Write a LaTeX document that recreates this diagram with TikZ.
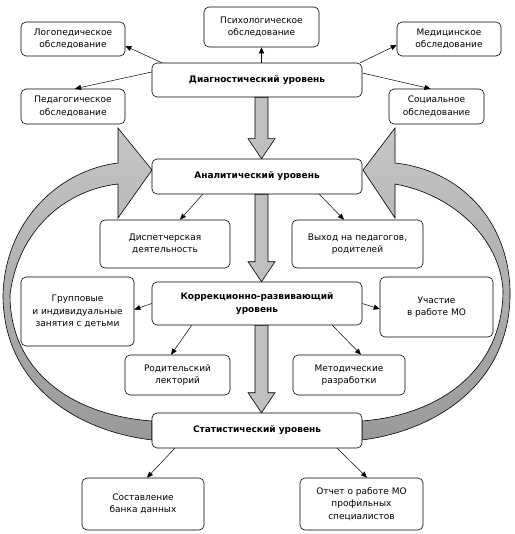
\documentclass[tikz,border=0pt]{standalone}
\usepackage{fontspec}
\setmainfont{DejaVu Sans}
\usetikzlibrary{positioning, calc, arrows.meta}

% wide grey arrow from one level to the next
\newcommand{\levelarrow}[2]{%
  \path[fill=gray!50, draw=black, line width=0.6pt] let \p1=(#1), \p2=(#2) in
    (\x1-6.5pt,\y1) -- (\x1+6.5pt,\y1) -- (\x2+6.5pt,\y2+20pt) -- (\x2+13.5pt,\y2+20pt)
    -- (\x2,\y2) -- (\x2-13.5pt,\y2+20pt) -- (\x2-6.5pt,\y2+20pt) -- cycle;}

\begin{document}
\begin{tikzpicture}[x=1pt, y=-1pt,
    box/.style={draw, rounded corners=5pt, fill=white, align=center, inner sep=2pt,
      line width=0.6pt, font=\fontsize{9}{12.5}\selectfont},
    level/.style={box, minimum width=210, font=\bfseries\fontsize{9}{12.5}\selectfont},
    link/.style={-{Triangle[length=6pt, width=5pt]}, line width=0.5pt},
    loop/.style={top color=gray!45, bottom color=gray!80, draw=black, line width=0.6pt}]

      \useasboundingbox (0,0) rectangle (514,534);

      % Feedback loops
      \path[loop] (152,170) -- (118,128) -- (118,163)
        .. controls (60,170) and (5,220) .. (3,295)
        .. controls (3,380) and (70,430) .. (152,440)
        -- (152,421)
        .. controls (70,415) and (10,370) .. (10,295)
        .. controls (18,230) and (65,190) .. (118,184)
        -- (118,218) -- cycle;
      \path[loop] (363,170) -- (395,128) -- (395,163)
        .. controls (460,170) and (508,220) .. (510,290)
        .. controls (512,380) and (440,430) .. (362,440)
        -- (362,421)
        .. controls (440,415) and (503,370) .. (503,290)
        .. controls (500,240) and (455,195) .. (395,184)
        -- (395,218) -- cycle;

      % Levels
      \node[level, minimum height=34] (diag) at (257,80) {Диагностический уровень};
      \node[level, minimum height=35] (anal) at (257,176.5) {Аналитический уровень};
      \node[level, minimum height=43] (korr) at (257,303.5) {Коррекционно-развивающий\\уровень};
      \node[level, minimum height=35] (stat) at (257,430.5) {Статистический уровень};

      % Diagnostic level
      \node[box, minimum width=104, minimum height=34] (logo) at (73,39) {Логопедическое\\обследование};
      \node[box, minimum width=115, minimum height=40] (psych) at (261.5,27) {Психологическое\\обследование};
      \node[box, minimum width=104, minimum height=34] (med) at (449,39) {Медицинское\\обследование};
      \node[box, minimum width=104, minimum height=35] (ped) at (73,106.5) {Педагогическое\\обследование};
      \node[box, minimum width=95, minimum height=35] (soc) at (436.5,106.5) {Социальное\\обследование};

      % Analytic level
      \node[box, minimum width=130, minimum height=48] (disp) at (165,244) {Диспетчерская\\деятельность};
      \node[box, minimum width=131, minimum height=48] (exit) at (357.5,244) {Выход на педагогов,\\родителей};

      % Correction level
      \node[box, minimum width=113, minimum height=69] (group) at (77.5,311.5) {Групповые\\и индивидуальные\\занятия с детьми};
      \node[box, minimum width=113, minimum height=60] (uch) at (436.5,307) {Участие\\в работе МО};
      \node[box, minimum width=105, minimum height=40] (rod) at (177.5,375) {Родительский\\лекторий};
      \node[box, minimum width=112, minimum height=40] (met) at (349,375) {Методические\\разработки};

      % Statistic level
      \node[box, minimum width=122, minimum height=52] (sost) at (143,504) {Составление\\банка данных};
      \node[box, minimum width=123, minimum height=52] (otch) at (361.5,504) {Отчет о работе МО\\профильных\\специалистов};

      \levelarrow{diag.south -| psych.south}{anal.north -| psych.south}
      \levelarrow{anal.south -| psych.south}{korr.north -| psych.south}
      \levelarrow{korr.south -| psych.south}{stat.north -| psych.south}

      \draw[link] ([xshift=10pt]diag.north west) -- ([yshift=-7pt]logo.east);
      \draw[link] ([yshift=8pt]diag.west) -- ([xshift=2pt]ped.north);
      \draw[link] (psych.south |- diag.north) -- (psych.south);
      \draw[link] ([xshift=-2pt]diag.north east) -- ([yshift=-6pt]med.west);
      \draw[link] ([yshift=7pt]diag.east) -- ([xshift=-6pt]soc.north);

      \draw[link] ([xshift=51pt]anal.south west) -- ([xshift=15pt]disp.north);
      \draw[link] ([xshift=-43pt]anal.south east) -- ([xshift=-13.5pt]exit.north);

      \draw[link] (korr.west) -- ([yshift=2pt]group.east);
      \draw[link] (korr.east) -- ([yshift=-2pt]uch.west);
      \draw[link] ([xshift=40pt]korr.south west) -- ([xshift=-6.5pt]rod.north);
      \draw[link] ([xshift=-30pt]korr.south east) -- ([xshift=12pt]met.north);

      \draw[link] ([xshift=23pt]stat.south west) -- ([xshift=4pt]sost.north);
      \draw[link] ([xshift=-25pt]stat.south east) -- ([xshift=5.5pt]otch.north);
    \end{tikzpicture}
\end{document}
